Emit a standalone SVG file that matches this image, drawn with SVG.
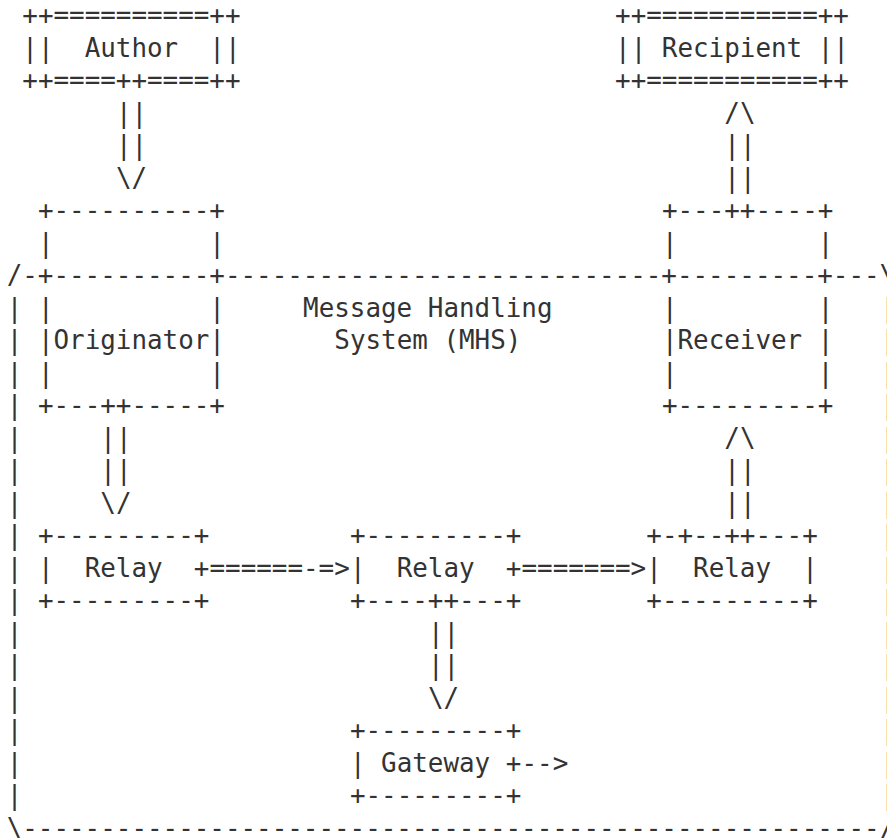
<svg xmlns="http://www.w3.org/2000/svg" width="887" height="838" viewBox="0 0 887 838" xml:space="preserve">
  <style>
    text { font-family: "DejaVu Sans Mono", "Liberation Mono", monospace; font-size: 25.9px; fill: #333333; white-space: pre; }
  </style>
  <!-- character grid: column c starts at x = 6.7 + 15.6*c, row n baseline at y = 24.2 + 32.5*(n-1) -->
  <rect width="887" height="838" fill="#ffffff"/>

  <g id="author">
    <text x="22.3" y="24.2">++==========++</text>
    <text x="22.3" y="56.7">||  Author  ||</text>
    <text x="22.3" y="89.2">++====++====++</text>
  </g>

  <g id="recipient">
    <text x="615.1" y="24.2">++===========++</text>
    <text x="615.1" y="56.7">|| Recipient ||</text>
    <text x="615.1" y="89.2">++===========++</text>
  </g>

  <g id="mhs">
    <text x="6.7" y="284.2">/-+----------+----------------------------+---------+---\</text>
    <text x="303.1" y="316.7">Message Handling</text>
    <text x="334.3" y="349.2">System (MHS)</text>
    <g id="mhs-left-edge">
      <text x="6.7" y="316.7">|</text><text x="6.7" y="349.2">|</text><text x="6.7" y="381.7">|</text>
      <text x="6.7" y="414.2">|</text><text x="6.7" y="446.7">|</text><text x="6.7" y="479.2">|</text>
      <text x="6.7" y="511.7">|</text><text x="6.7" y="544.2">|</text><text x="6.7" y="576.7">|</text>
      <text x="6.7" y="609.2">|</text><text x="6.7" y="641.7">|</text><text x="6.7" y="674.2">|</text>
      <text x="6.7" y="706.7">|</text><text x="6.7" y="739.2">|</text><text x="6.7" y="771.7">|</text>
      <text x="6.7" y="804.2">|</text>
    </g>
    <g id="mhs-right-edge">
      <text x="880.3" y="316.7">|</text><text x="880.3" y="349.2">|</text><text x="880.3" y="381.7">|</text>
      <text x="880.3" y="414.2">|</text><text x="880.3" y="446.7">|</text><text x="880.3" y="479.2">|</text>
      <text x="880.3" y="511.7">|</text><text x="880.3" y="544.2">|</text><text x="880.3" y="576.7">|</text>
      <text x="880.3" y="609.2">|</text><text x="880.3" y="641.7">|</text><text x="880.3" y="674.2">|</text>
      <text x="880.3" y="706.7">|</text><text x="880.3" y="739.2">|</text><text x="880.3" y="771.7">|</text>
      <text x="880.3" y="804.2">|</text>
    </g>
    <text x="6.7" y="836.7">\-------------------------------------------------------/</text>
  </g>

  <g id="originator">
    <text x="37.9" y="219.2">+----------+</text>
    <text x="37.9" y="251.7">|          |</text>
    <text x="37.9" y="316.7">|          |</text>
    <text x="37.9" y="349.2">|Originator|</text>
    <text x="37.9" y="381.7">|          |</text>
    <text x="37.9" y="414.2">+---++-----+</text>
  </g>

  <g id="receiver">
    <text x="661.9" y="219.2">+---++----+</text>
    <text x="661.9" y="251.7">|         |</text>
    <text x="661.9" y="316.7">|         |</text>
    <text x="661.9" y="349.2">|Receiver |</text>
    <text x="661.9" y="381.7">|         |</text>
    <text x="661.9" y="414.2">+---------+</text>
  </g>

  <g id="relay-1">
    <text x="37.9" y="544.2">+---------+</text>
    <text x="37.9" y="576.7">|  Relay  +</text>
    <text x="37.9" y="609.2">+---------+</text>
  </g>

  <g id="relay-2">
    <text x="349.9" y="544.2">+---------+</text>
    <text x="349.9" y="576.7">|  Relay  +</text>
    <text x="349.9" y="609.2">+----++---+</text>
  </g>

  <g id="relay-3">
    <text x="646.3" y="544.2">+-+--++---+</text>
    <text x="646.3" y="576.7">|  Relay  |</text>
    <text x="646.3" y="609.2">+---------+</text>
  </g>

  <g id="gateway">
    <text x="349.9" y="739.2">+---------+</text>
    <text x="349.9" y="771.7">| Gateway +</text>
    <text x="349.9" y="804.2">+---------+</text>
  </g>

  <g id="connectors">
    <!-- author to originator -->
    <text x="115.9" y="121.7">||</text>
    <text x="115.9" y="154.2">||</text>
    <text x="115.9" y="186.7">\/</text>
    <!-- receiver to recipient -->
    <text x="724.3" y="121.7">/\</text>
    <text x="724.3" y="154.2">||</text>
    <text x="724.3" y="186.7">||</text>
    <!-- originator to first relay -->
    <text x="100.3" y="446.7">||</text>
    <text x="100.3" y="479.2">||</text>
    <text x="100.3" y="511.7">\/</text>
    <!-- last relay to receiver -->
    <text x="724.3" y="446.7">/\</text>
    <text x="724.3" y="479.2">||</text>
    <text x="724.3" y="511.7">||</text>
    <!-- relay to relay -->
    <text x="209.5" y="576.7">======-=&gt;</text>
    <text x="521.5" y="576.7">=======&gt;</text>
    <!-- relay to gateway -->
    <text x="427.9" y="641.7">||</text>
    <text x="427.9" y="674.2">||</text>
    <text x="427.9" y="706.7">\/</text>
    <!-- gateway out -->
    <text x="521.5" y="771.7">--&gt;</text>
  </g>
</svg>
